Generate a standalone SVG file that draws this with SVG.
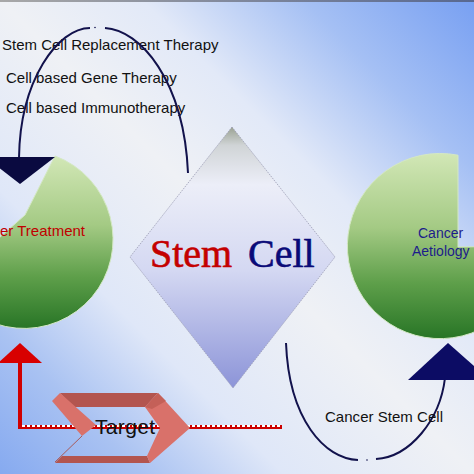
<svg xmlns="http://www.w3.org/2000/svg" width="474" height="474" viewBox="0 0 474 474">
  <defs>
    <linearGradient id="bg" gradientUnits="userSpaceOnUse" x1="0" y1="474" x2="474" y2="0">
      <stop offset="0" stop-color="#86aaf0"/>
      <stop offset="0.15" stop-color="#a9c2f2"/>
      <stop offset="0.3" stop-color="#dfe7f8"/>
      <stop offset="0.5" stop-color="#eff1f5"/>
      <stop offset="0.65" stop-color="#e2e9f8"/>
      <stop offset="0.82" stop-color="#a5c0f4"/>
      <stop offset="1" stop-color="#78a0f2"/>
    </linearGradient>
    <linearGradient id="topbar" x1="0" y1="0" x2="1" y2="0">
      <stop offset="0" stop-color="#a8a8a8"/>
      <stop offset="1" stop-color="#586890"/>
    </linearGradient>
    <linearGradient id="green" x1="0" y1="0" x2="0" y2="1">
      <stop offset="0" stop-color="#d2e7b6"/>
      <stop offset="0.4" stop-color="#a4ca84"/>
      <stop offset="0.7" stop-color="#5e9f4a"/>
      <stop offset="1" stop-color="#287526"/>
    </linearGradient>
    <linearGradient id="diamond" x1="0" y1="0" x2="0" y2="1">
      <stop offset="0" stop-color="#9aa292"/>
      <stop offset="0.07" stop-color="#d0d4d6"/>
      <stop offset="0.22" stop-color="#eceef8"/>
      <stop offset="0.55" stop-color="#d4d8f2"/>
      <stop offset="1" stop-color="#8c94d8"/>
    </linearGradient>
  </defs>
  <style>
    .t { font-family: "Liberation Sans", Arial, sans-serif; font-size: 15px; fill: #111; }
    .arc { fill: none; stroke: #12124c; stroke-width: 2; }
    .navy { fill: #0c0c64; }
    .light { fill: #d9716a; }
    .dark { fill: #b3554f; }
  </style>

  <rect width="474" height="474" fill="url(#bg)"/>
  <rect width="474" height="2" fill="url(#topbar)"/>

  <g id="therapies">
    <text class="t" x="2" y="50">Stem Cell Replacement Therapy</text>
    <text class="t" x="6" y="83">Cell based Gene Therapy</text>
    <text class="t" x="6" y="113">Cell based Immunotherapy</text>
  </g>

  <g id="cancer-treatment">
    <path d="M25,215 L55,156 A89,89 0 1 1 -53,284 Z" fill="url(#green)" stroke="#d4e8c4" stroke-width="1"/>
    <text class="t" x="0" y="236" style="fill:#c00000">er Treatment</text>
  </g>

  <g id="cancer-aetiology">
    <path d="M458,247 L458,155.2 A92.6,92.6 0 1 0 532.6,246 Z" fill="url(#green)" stroke="#d4e8c4" stroke-width="1"/>
    <text class="t" x="418" y="238" style="fill:#1c1c8a;font-size:14px">Cancer</text>
    <text class="t" x="412" y="256" style="fill:#1c1c8a;font-size:14px">Aetiology</text>
  </g>

  <g id="stem-cell">
    <polygon points="232,127 335,257 233,388 130,257" fill="url(#diamond)" stroke="#9a9cb4" stroke-width="0.8" stroke-dasharray="1.5 1"/>
    <text x="150" y="267" style="font-family:'Liberation Serif','Times New Roman',serif;font-size:40px;stroke-width:0.6"><tspan fill="#c40000" stroke="#c40000">Stem</tspan><tspan x="248" fill="#0a0a78" stroke="#0a0a78">Cell</tspan></text>
  </g>

  <g id="connectors">
    <path class="arc" d="M19,158 C20,80 58,28 90,28"/>
    <path class="arc" d="M105,28 C140,30 184,80 188,173"/>
    <circle cx="95" cy="27.5" r="0.8" fill="#12124c"/>
    <polygon points="-15,157 55,157 20,184" fill="#0a0a40"/>
    <path class="arc" d="M286,343 C289,420 325,459 358,460"/>
    <path class="arc" d="M376,459 C410,457 440,420 445,378"/>
    <circle cx="367" cy="460" r="0.8" fill="#12124c"/>
    <polygon class="navy" points="448,343 490,380 408,380"/>
    <line x1="20" y1="427" x2="282" y2="427" stroke="#cc0000" stroke-width="4"/>
    <line x1="22" y1="426" x2="282" y2="426" stroke="#ffffff" stroke-width="2" stroke-dasharray="3 2"/>
    <line x1="20" y1="429" x2="20" y2="362" stroke="#d00000" stroke-width="4"/>
    <polygon points="-2,363 42,363 20,343" fill="#d80000"/>
  </g>

  <g id="target">
    <polygon class="dark" points="60,393 158,393 145,407 73,407"/>
    <polygon class="light" points="60,393 96,425 82,436 52,401"/>
    <line x1="82" y1="436" x2="55" y2="462" stroke="#a85a5a" stroke-width="1"/>
    <polygon class="dark" points="55,463 150,463 147,456 62,456"/>
    <polygon class="light" points="158,393 190,428 150,463 147,456 160,428 145,407"/>
    <polygon fill="#c46058" points="145,407 158,393 166,401 152,409"/>
    <text class="t" x="95" y="434" style="font-size:21px" textLength="60">Target</text>
  </g>

  <g id="cancer-stem-cell">
    <text class="t" x="325" y="422" textLength="118">Cancer Stem Cell</text>
  </g>
</svg>
